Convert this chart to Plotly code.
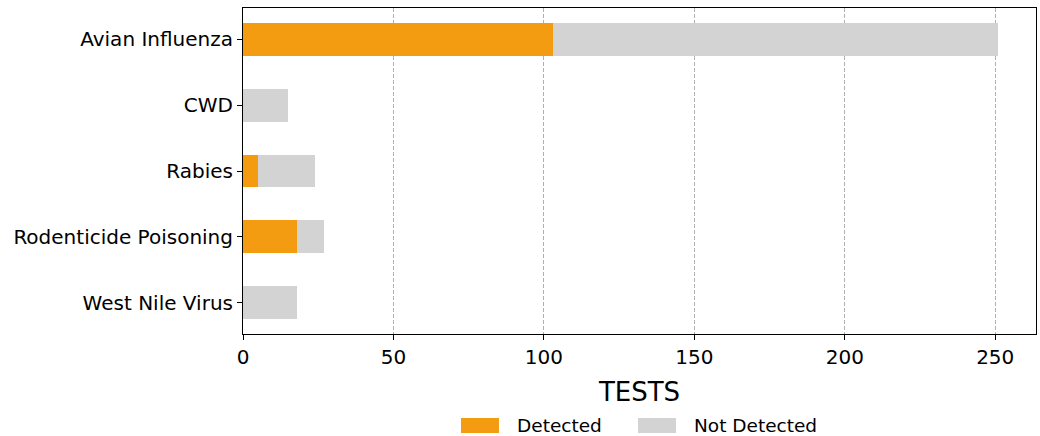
import plotly.graph_objects as go

categories = ["Avian Influenza", "CWD", "Rabies", "Rodenticide Poisoning", "West Nile Virus"]
detected = [103, 0, 5, 18, 0]
not_detected = [148, 15, 19, 9, 18]
x_ticks = [0, 50, 100, 150, 200, 250]
series_names = ["Detected", "Not Detected"]
series_colors = ["#f39c12", "#d3d3d3"]

FONT = "DejaVu Sans"
fig = go.Figure()
for name, vals, col in zip(series_names, [detected, not_detected], series_colors):
    fig.add_trace(go.Bar(y=categories, x=vals, name=name, orientation="h",
                         marker=dict(color=col, line=dict(width=0)), width=0.5,
                         showlegend=False))

# legend drawn as swatches + text below the axis title
legend_pos = [(0.2749, 0.3430), (0.4981, 0.5662)]
for (sx, tx), name, col in zip(legend_pos, series_names, series_colors):
    fig.add_shape(type="rect", xref="paper", yref="paper", x0=sx, x1=sx + 0.0479,
                  y0=-0.3037, y1=-0.2577, fillcolor=col, line=dict(width=0))
    fig.add_annotation(xref="paper", yref="paper", x=tx, y=-0.2807, text=name,
                       showarrow=False, xanchor="left", yanchor="middle",
                       font=dict(size=18.5, family=FONT, color="black"))

total_max = max(d + n for d, n in zip(detected, not_detected))
fig.update_layout(
    barmode="stack",
    width=1040, height=436,
    margin=dict(l=243, r=4, t=8, b=102),
    paper_bgcolor="white", plot_bgcolor="white",
    font=dict(family=FONT, size=20, color="black"),
    xaxis=dict(range=[0, total_max * 1.05], tickvals=x_ticks, ticks="outside", ticklen=5,
               tickcolor="black", showline=True, linecolor="black", linewidth=1, mirror=True,
               showgrid=True, gridcolor="#b0b0b0", griddash="4px,2px", gridwidth=1, zeroline=False,
               title=dict(text="TESTS", font=dict(size=26), standoff=14),
               tickfont=dict(size=20), automargin=False),
    yaxis=dict(type="category", categoryorder="array", categoryarray=categories,
               range=[4.475, -0.475], ticks="outside", ticklen=5, tickcolor="black",
               showline=True, linecolor="black", linewidth=1, mirror=True, showgrid=False,
               tickfont=dict(size=20), automargin=False),
    showlegend=False,
)
fig.write_html("out.html", config={"displayModeBar": False},
               post_script="document.body.style.margin='0';document.body.style.overflow='hidden';")
